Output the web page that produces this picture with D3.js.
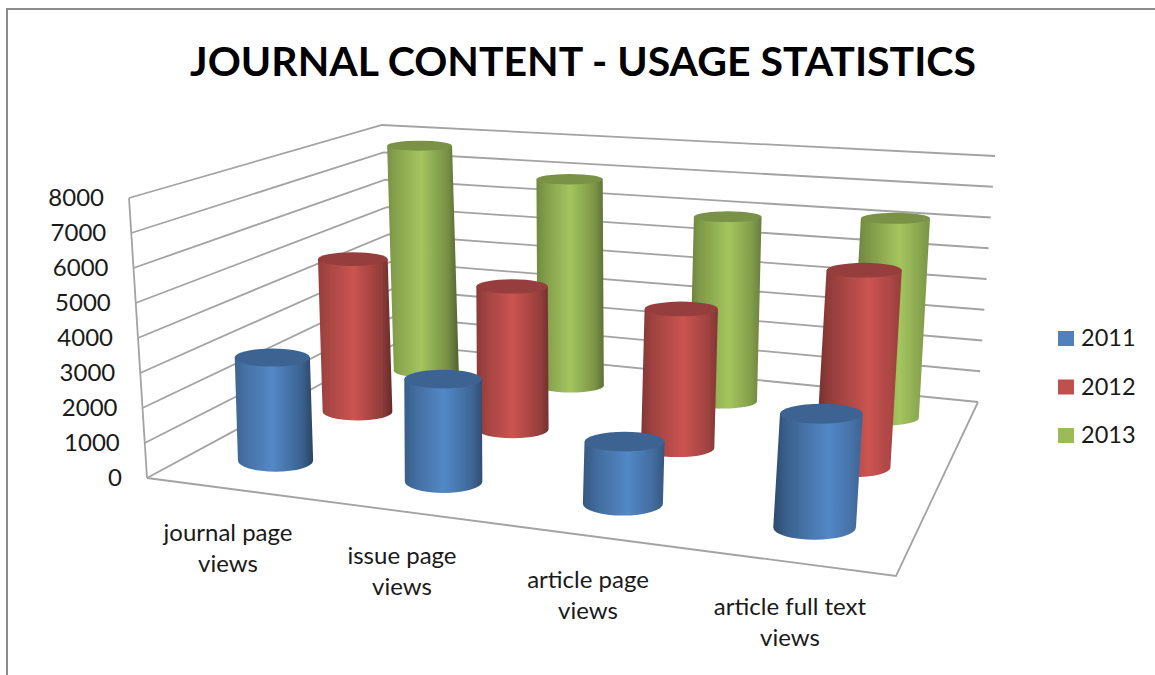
<!DOCTYPE html>
<html lang="en">
<head>
    <meta charset="UTF-8">
    <title>Journal Content - Usage Statistics</title>
    <style>
        body { margin: 0; background: #fff; overflow: hidden; }
        svg { display: block; font-family: Lato, sans-serif; fill: #1a1a1a; }
    </style>
</head>
<body>
    <svg id="chart" width="1155" height="675"></svg>
    <script src="https://cdnjs.cloudflare.com/ajax/libs/d3/7.8.5/d3.min.js"></script>
    <script>
        // Data
        const categories = ["journal page views", "issue page views", "article page views", "article full text views"];
        const seriesNames = ["2011", "2012", "2013"];
        const values2011 = [3000, 2880, 1690, 3000];
        const values2012 = [4800, 4350, 4100, 5650];
        const values2013 = [7700, 6850, 5950, 6250];
        const yTicks = [0, 1000, 2000, 3000, 4000, 5000, 6000, 7000, 8000];
        const seriesColors = ["#4f81bd", "#c0504d", "#9bbb59"];
        const lineColor = "#a3a3a3";

        const svg = d3.select("#chart");

        // Floor corners on screen: front-left, front-right, back-right, back-left
        const floor = [[147, 478], [896, 576], [978, 402], [395, 344]];
        // How a full-height (8000) step moves a floor point, at the same corners
        const lift = [[-18, -280], [24, -320], [17, -246], [-13, -219]];

        function makeHomography(q) {
            const [[x0, y0], [x1, y1], [x2, y2], [x3, y3]] = q;
            const dx1 = x1 - x2, dx2 = x3 - x2, sx = x0 - x1 + x2 - x3;
            const dy1 = y1 - y2, dy2 = y3 - y2, sy = y0 - y1 + y2 - y3;
            const den = dx1 * dy2 - dx2 * dy1;
            const g = (sx * dy2 - dx2 * sy) / den;
            const h = (dx1 * sy - sx * dy1) / den;
            const a = x1 - x0 + g * x1, b = x3 - x0 + h * x3;
            const d = y1 - y0 + g * y1, e = y3 - y0 + h * y3;
            return (u, v) => {
                const w = g * u + h * v + 1;
                return [(a * u + b * v + x0) / w, (d * u + e * v + y0) / w];
            };
        }
        const ground = makeHomography(floor);

        const uScale = d3.scaleBand().domain(categories).range([-0.003, 1.003]);
        const vScale = d3.scaleBand().domain(seriesNames).range([0, 0.98]);
        const hScale = d3.scaleLinear().domain([0, 8000]).range([0, 1]);

        // u: along the categories, v: front to back, value: height
        function project(u, v, value) {
            const [x, y] = ground(u, v);
            const k = hScale(value);
            const lx = (1 - v) * ((1 - u) * lift[0][0] + u * lift[1][0]) + v * ((1 - u) * lift[3][0] + u * lift[2][0]);
            const ly = (1 - v) * ((1 - u) * lift[0][1] + u * lift[1][1]) + v * ((1 - u) * lift[3][1] + u * lift[2][1]);
            return [x + lx * k, y + ly * k];
        }

        // The reference is a slightly soft screenshot
        svg.append("defs").append("filter").attr("id", "soft")
            .append("feGaussianBlur").attr("stdDeviation", 0.5);

        // Outer frame, open to the right and at the bottom
        svg.append("path")
            .attr("d", "M7,675V9H1155")
            .attr("fill", "none")
            .attr("stroke", "#8c8c8c")
            .attr("stroke-width", 2);

        svg.append("text")
            .attr("x", 583).attr("y", 76)
            .attr("text-anchor", "middle")
            .attr("font-size", 41).attr("font-weight", 700)
            .attr("fill", "#000")
            .text("JOURNAL CONTENT - USAGE STATISTICS");

        // Walls
        const line = d3.line();
        const walls = svg.append("g").attr("fill", "none").attr("stroke", lineColor).attr("stroke-width", 1.8);
        yTicks.forEach(t => {
            walls.append("path").attr("d", line([project(0, 0, t), project(0, 1, t), project(1, 1, t)]));
        });
        walls.append("path").attr("d", line([project(0, 0, 0), project(0, 0, 8000)]));
        walls.append("path").attr("d", line([project(0, 0, 0), project(1, 0, 0), project(1, 1, 0)]));

        // Value axis labels
        svg.append("g").selectAll("text").data(yTicks).join("text")
            .attr("x", d => project(0, 0, d)[0] - 25)
            .attr("y", d => project(0, 0, d)[1] + 8)
            .attr("text-anchor", "end")
            .attr("font-size", 24)
            .text(d => d);

        // Category labels, split in two lines
        const catLabels = [["journal page", "views"], ["issue page", "views"], ["article page", "views"], ["article full text", "views"]];
        const catLabelX = [228, 402, 588, 790];
        const catLabelY = [541, 564, 588, 615];
        categories.forEach((c, i) => {
            const t = svg.append("text").attr("text-anchor", "middle").attr("font-size", 24);
            catLabels[i].forEach((s, j) => {
                t.append("tspan").attr("x", catLabelX[i]).attr("y", catLabelY[i] + j * 31).text(s);
            });
        });

        // Cylinder shading, the light moves to the right along the categories
        const defs = svg.select("defs");
        const peak = [0.48, 0.5, 0.55, 0.62];
        const darkL = [0.7, 0.9, 1.1, 1.6];
        const darkR = [1.8, 1.4, 1.1, 0.7];
        function gradient(id, color, col) {
            const base = d3.color(color);
            const g = defs.append("linearGradient").attr("id", id);
            g.append("stop").attr("offset", 0).attr("stop-color", base.darker(darkL[col]));
            g.append("stop").attr("offset", 0.15).attr("stop-color", base.darker(darkL[col] * 0.5));
            g.append("stop").attr("offset", peak[col]).attr("stop-color", base.brighter(0.15));
            g.append("stop").attr("offset", 0.86).attr("stop-color", base.darker(darkR[col] * 0.45));
            g.append("stop").attr("offset", 1).attr("stop-color", base.darker(darkR[col]));
        }

        const allValues = [values2011, values2012, values2013];
        const bars = svg.append("g").attr("filter", "url(#soft)");
        // Back row first so the front row covers it
        d3.range(seriesNames.length - 1, -1, -1).forEach(s => {
            const v = vScale(seriesNames[s]) + vScale.bandwidth() / 2;
            categories.forEach((c, i) => {
                const u = uScale(c) + uScale.bandwidth() / 2;
                const value = allValues[s][i];
                const [bx, by] = project(u, v, 0);
                const top = project(u, v, value);
                // left side cylinders lean a bit less than the wall edge
                const lean = top[0] - bx;
                const tx = bx + (lean < 0 ? lean * 0.7 : lean);
                const ty = top[1];
                const rx = (ground(u + 0.05, v)[0] - ground(u - 0.05, v)[0]) * (0.59 - 0.075 * u);
                const ryBase = rx * (0.32 - 0.14 * v);
                const ryTop = ryBase * (0.85 - 0.1 * hScale(value));
                const id = `cyl-${s}-${i}`;
                gradient(id, seriesColors[s], i);
                bars.append("path")
                    .attr("d", `M${tx - rx},${ty}L${bx - rx},${by}A${rx},${ryBase} 0 0 0 ${bx + rx},${by}L${tx + rx},${ty}Z`)
                    .attr("fill", `url(#${id})`);
                bars.append("ellipse")
                    .attr("cx", tx).attr("cy", ty)
                    .attr("rx", rx).attr("ry", ryTop)
                    .attr("fill", d3.color(seriesColors[s]).darker(0.7));
            });
        });

        // Legend
        const legend = svg.append("g").selectAll("g").data(seriesNames).join("g")
            .attr("transform", (d, i) => `translate(1058,${331 + i * 48.5})`);
        legend.append("rect").attr("width", 16).attr("height", 15).attr("fill", (d, i) => seriesColors[i]);
        legend.append("text").attr("x", 23).attr("y", 15).attr("font-size", 23.5).text(d => d);
    </script>
</body>
</html>
